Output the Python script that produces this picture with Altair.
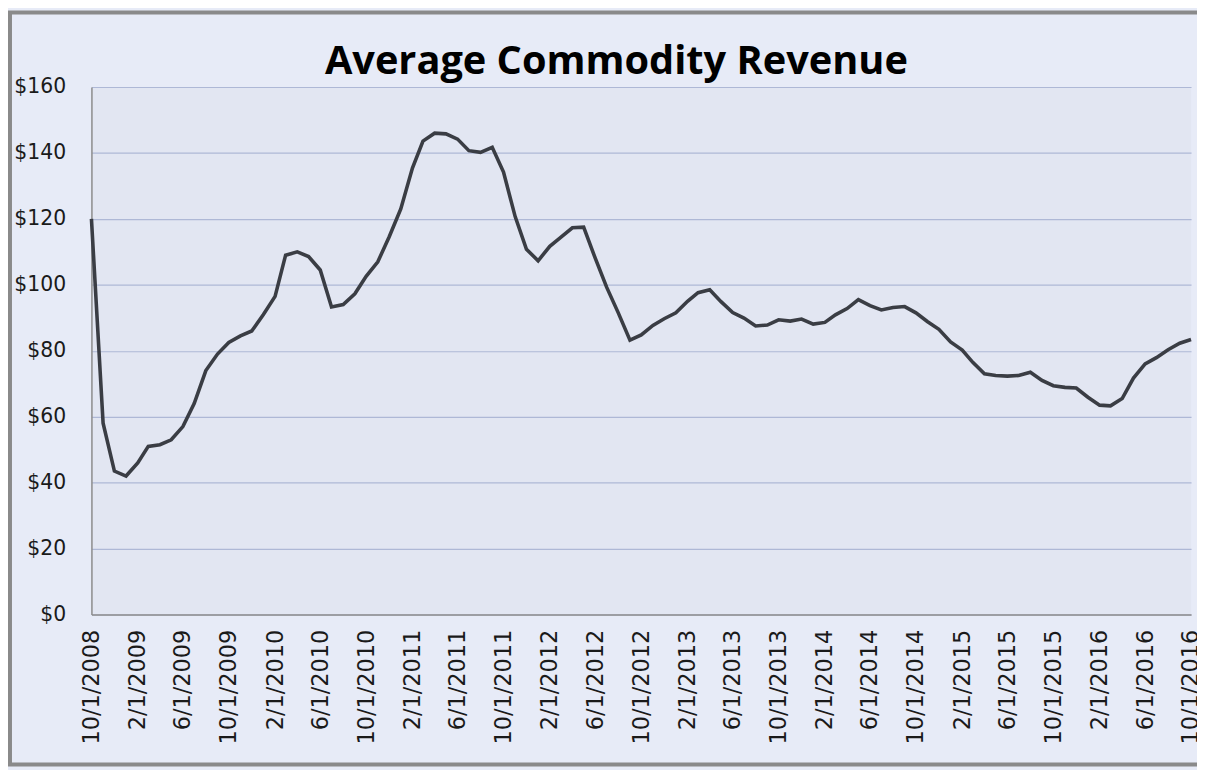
import altair as alt
import pandas as pd

# ---------------- data ----------------
chart_title = "Average Commodity Revenue"
first_month = "2008-10-01"
revenue = [
    120, 58, 43.5, 42, 46, 51, 51.5, 53, 57, 64, 74, 79, 82.5, 84.5, 86, 91, 96.5,
    109, 110, 108.6, 104.5, 93.3, 94, 97.3, 102.6, 107, 114.5, 123, 135.4, 143.6, 146, 145.8, 144.2,
    140.7, 140.2, 141.7, 134.2, 120.7, 110.8, 107.3, 111.7, 114.4, 117.3, 117.5, 108, 99.3, 91.5,
    83.2, 84.8, 87.7, 89.7,
    91.5, 95, 97.6, 98.5, 94.9, 91.6, 89.9, 87.5, 87.8, 89.4, 89, 89.6, 88.1, 88.6, 90.9, 92.8,
    95.5, 93.7, 92.4, 93.1, 93.4, 91.5, 88.8, 86.5, 82.7, 80.2, 76.5, 73, 72.5, 72.3, 72.5, 73.5,
    71, 69.4, 68.9, 68.7, 65.9, 63.5, 63.3, 65.5, 71.7, 76, 77.9, 80.3, 82.3, 83.4,
]
tick_labels = [
    "10/1/2008", "2/1/2009", "6/1/2009", "10/1/2009", "2/1/2010", "6/1/2010", "10/1/2010",
    "2/1/2011", "6/1/2011", "10/1/2011", "2/1/2012", "6/1/2012", "10/1/2012", "2/1/2013",
    "6/1/2013", "10/1/2013", "2/1/2014", "6/1/2014", "10/1/2014", "2/1/2015", "6/1/2015",
    "10/1/2015", "2/1/2016", "6/1/2016", "10/1/2016",
]
y_ticks = [0, 20, 40, 60, 80, 100, 120, 140, 160]

# ---------------- build table ----------------
months = pd.date_range(first_month, periods=len(revenue), freq="MS")
df = pd.DataFrame({"date": months.strftime("%Y-%m-%d"), "revenue": revenue})

tick_ms = [int(pd.Timestamp(pd.to_datetime(t, format="%m/%d/%Y")).value // 10**6) for t in tick_labels]
domain_ms = [tick_ms[0], tick_ms[-1]]

AXIS_FONT = "DejaVu Sans"

line = alt.Chart(df).mark_line(color="#3A3D44", strokeWidth=3.6).encode(
    x=alt.X(
        "date:T",
        scale=alt.Scale(type="utc", domain=domain_ms, nice=False),
        axis=alt.Axis(
            values=tick_ms,
            labelExpr="utcFormat(datum.value, '%-m/%-d/%Y')",
            labelAngle=270,
            labelFont=AXIS_FONT,
            labelFontSize=22.5,
            labelColor="#1a1a1a",
            labelPadding=15,
            labelOverlap=False,
            labelFlush=False,
            ticks=False,
            grid=False,
            domainColor="#8C8C8C",
            domainWidth=1.5,
            title=None,
        ),
    ),
    y=alt.Y(
        "revenue:Q",
        scale=alt.Scale(domain=[0, 160], nice=False, zero=True),
        axis=alt.Axis(
            values=y_ticks,
            format="$.0f",
            labelFont=AXIS_FONT,
            labelFontSize=20.5,
            labelColor="#1a1a1a",
            labelPadding=26,
            ticks=False,
            grid=True,
            gridColor="#AEB8D6",
            gridWidth=1.2,
            domainColor="#8C8C8C",
            domainWidth=1.5,
            title=None,
        ),
    ),
)

frame = alt.Chart(alt.Data(values=[{}])).mark_rect(
    fill="transparent", stroke="#8A8A8A", strokeWidth=4
).encode(
    x=alt.value(-82), x2=alt.value(1125), y=alt.value(-75), y2=alt.value(682)
)

chart = (
    alt.layer(line, frame)
    .properties(
        width=1107,
        height=531,
        autosize="none",
        padding={"left": 84, "top": 77, "right": 6, "bottom": 154},
        background="#E7EBF7",
        title=alt.Title(
            chart_title,
            font="Open Sans",
            fontSize=40,
            fontWeight="bold",
            color="#000000",
            anchor="middle",
            baseline="alphabetic",
            dx=-25,
            dy=104,
            offset=0,
        ),
    )
    .configure_view(fill="#E2E6F2", stroke=None)
)

chart.save("out.html", embed_options={"renderer": "svg", "actions": False})
